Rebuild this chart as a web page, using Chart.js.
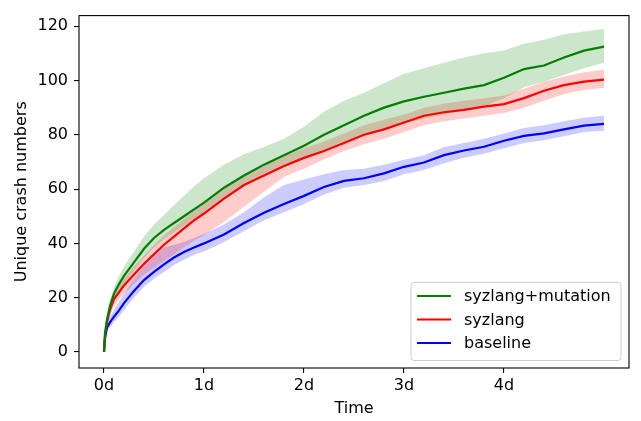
<!DOCTYPE html>
<html>
<head>
<meta charset="utf-8">
<script src="https://cdn.jsdelivr.net/npm/chart.js@4"></script>
<style>
  body { margin: 0; background: #fff; }
  #wrap { width: 641px; height: 421px; position: relative; }
</style>
</head>
<body>
<div id="wrap"><canvas id="crashChart"></canvas></div>
<script>
// time in days
const times = [0, 0.01, 0.03, 0.06, 0.1, 0.15, 0.2, 0.3, 0.4, 0.5, 0.6, 0.7, 0.8, 0.9, 1.0,
    1.2, 1.4, 1.6, 1.8, 2.0, 2.2, 2.4, 2.6, 2.8, 3.0, 3.2, 3.4, 3.6, 3.8, 4.0, 4.2, 4.4, 4.6, 4.8, 5.0];

// syzlang+mutation
const mutationMean = [0, 7, 12, 17, 21.5, 25, 28, 33, 38, 42, 45, 47.5, 50, 52.5, 55,
    60.5, 65, 69, 72.5, 76, 80, 83.5, 87, 90, 92.3, 94, 95.5, 97, 98.3, 101, 104.2, 105.5, 108.5, 111, 112.5];
const mutationUpper = [0, 8, 13.5, 19, 24, 28, 31.5, 37, 42.5, 47, 50.5, 54, 57.5, 61, 64,
    69, 72.8, 75.5, 78.5, 83, 88.5, 92.5, 95.5, 99, 102.5, 104.5, 106.5, 108.5, 110, 111, 113.5, 115, 117, 118, 119];
const mutationLower = [0, 6, 10.5, 15, 19, 22.5, 25, 30, 34.5, 38.5, 41.5, 44, 46.5, 49, 51.5,
    56.5, 61, 65, 68, 71, 74, 77, 79.5, 82, 84, 86, 87.5, 89, 90.5, 93.5, 97.5, 99.5, 102, 104.5, 106.5];

// syzlang
const syzlangMean = [0, 6, 11, 15.5, 19.5, 22, 24.5, 28.5, 32.5, 36, 39.5, 42.5, 45.5, 48.5, 51,
    56.5, 61.5, 65, 68.5, 71.5, 74, 77, 80, 82, 84.5, 87, 88.3, 89.2, 90.4, 91.3, 93.5, 96.2, 98.3, 99.6, 100.3];
const syzlangUpper = [0, 7, 12.5, 17.5, 21.5, 24.5, 27, 31.5, 35.5, 39.5, 43, 46, 49, 52, 55,
    60, 65, 68.5, 72, 75, 77.5, 80.5, 83.5, 85.5, 87.5, 90, 91.5, 92.5, 93.5, 94.5, 97, 99.5, 101.5, 103, 104];
const syzlangLower = [0, 5, 9.5, 13.5, 17, 19.5, 21.5, 25, 28.5, 31, 33.5, 36, 38.5, 41, 43,
    48, 53.5, 59, 64.5, 67.5, 71, 74, 76.5, 78.5, 81, 83.5, 85, 86, 87, 88, 90, 92.5, 95, 96.5, 97.3];

// baseline
const baselineMean = [0, 5, 9, 10.9, 13, 15.3, 18, 22.5, 26.5, 29.5, 32.3, 34.8, 36.8, 38.5, 40,
    43.3, 47.5, 51.3, 54.5, 57.5, 60.8, 63, 64, 65.8, 68.2, 69.8, 72.5, 74.2, 75.6, 77.8, 79.6, 80.5, 82, 83.4, 84];
const baselineUpper = [0, 6, 10.5, 13, 15.5, 18.5, 21.5, 27, 32, 36.5, 38.5, 39.5, 40.5, 42, 43.5,
    47, 51.5, 57, 61.5, 63.5, 65.5, 67, 67.5, 69, 70.8, 72.5, 75.5, 77, 78.5, 80.5, 82.5, 83.5, 85, 86.3, 87];
const baselineLower = [0, 4, 7.5, 9, 11, 13, 15.5, 20, 24, 27, 29.5, 32, 34, 35.8, 37,
    40.5, 44.5, 48.5, 51.5, 54.5, 58, 60.5, 61.5, 63, 65.5, 67, 69.5, 71.5, 73, 75, 77, 78, 79.5, 81, 81.5];

const seriesNames = ['syzlang+mutation', 'syzlang', 'baseline'];
const xTicks = [0, 1, 2, 3, 4];
const yTicks = [0, 20, 40, 60, 80, 100, 120];

const FONT = 'DejaVu Sans';

function points(values) {
    return times.map((t, i) => ({ x: t, y: values[i] }));
}

function band(upper, lower, fillColor) {
    return [
        { data: points(upper), borderWidth: 0, pointRadius: 0, fill: '+1', backgroundColor: fillColor, order: 10, isBand: true },
        { data: points(lower), borderWidth: 0, pointRadius: 0, fill: false, order: 10, isBand: true }
    ];
}

function line(label, values, color) {
    return { label: label, data: points(values), borderColor: color, backgroundColor: color,
        borderWidth: 2.2, pointRadius: 0, fill: false, order: 0 };
}

// frame + matplotlib-style legend in lower right
const framePlugin = {
    id: 'frame',
    afterDraw(chart) {
        const ctx = chart.ctx;
        const ca = chart.chartArea;
        ctx.save();
        ctx.strokeStyle = '#000';
        ctx.lineWidth = 1.1;
        ctx.strokeRect(ca.left, ca.top, ca.right - ca.left, ca.bottom - ca.top);

        const w = 210, h = 78;
        const bx = ca.right - 8 - w, by = ca.bottom - 7.5 - h;
        ctx.beginPath();
        ctx.roundRect(bx, by, w, h, 3);
        ctx.fillStyle = 'rgba(255,255,255,0.8)';
        ctx.fill();
        ctx.strokeStyle = '#cccccc';
        ctx.lineWidth = 1;
        ctx.stroke();

        const lines = chart.data.datasets.filter(d => !d.isBand);
        ctx.font = '16px "' + FONT + '"';
        ctx.textBaseline = 'middle';
        lines.forEach((d, i) => {
            const y = by + 13.5 + i * 23.5;
            ctx.beginPath();
            ctx.moveTo(bx + 6, y);
            ctx.lineTo(bx + 40, y);
            ctx.strokeStyle = d.borderColor;
            ctx.lineWidth = 2.2;
            ctx.stroke();
            ctx.fillStyle = '#000';
            ctx.fillText(d.label, bx + 53, y + 1);
        });
        ctx.restore();
    }
};

const ctx = document.getElementById('crashChart').getContext('2d');
new Chart(ctx, {
    type: 'line',
    data: {
        datasets: [
            ...band(mutationUpper, mutationLower, 'rgba(0, 128, 0, 0.2)'),
            ...band(syzlangUpper, syzlangLower, 'rgba(255, 0, 0, 0.2)'),
            ...band(baselineUpper, baselineLower, 'rgba(0, 0, 255, 0.2)'),
            line(seriesNames[0], mutationMean, '#008000'),
            line(seriesNames[1], syzlangMean, '#ff0000'),
            line(seriesNames[2], baselineMean, '#0000ff')
        ]
    },
    options: {
        responsive: true,
        maintainAspectRatio: false,
        animation: false,
        layout: { padding: { top: 5, right: 12, left: 0, bottom: 0 } },
        plugins: {
            legend: { display: false },
            tooltip: { enabled: false }
        },
        scales: {
            x: {
                type: 'linear',
                min: -0.25,
                max: 5.25,
                afterBuildTicks: scale => { scale.ticks = xTicks.map(v => ({ value: v })); },
                afterFit: scale => { scale.height = 53; },
                ticks: {
                    callback: v => v + 'd',
                    color: '#000',
                    padding: 3,
                    maxRotation: 0,
                    font: { family: FONT, size: 16 }
                },
                grid: { drawOnChartArea: false, drawTicks: true, tickLength: 5, color: '#000', lineWidth: 1.1 },
                border: { display: false },
                title: {
                    display: true,
                    text: 'Time',
                    color: '#000',
                    font: { family: FONT, size: 16, lineHeight: 1.2 },
                    padding: { top: 0, bottom: 2.4 }
                }
            },
            y: {
                min: -5.9,
                max: 123.9,
                afterBuildTicks: scale => { scale.ticks = yTicks.map(v => ({ value: v })); },
                afterFit: scale => { scale.width = 79; },
                ticks: {
                    color: '#000',
                    padding: 6,
                    font: { family: FONT, size: 16 }
                },
                grid: { drawOnChartArea: false, drawTicks: true, tickLength: 5, color: '#000', lineWidth: 1.1 },
                border: { display: false },
                title: {
                    display: true,
                    text: 'Unique crash numbers',
                    color: '#000',
                    font: { family: FONT, size: 16, lineHeight: 1.2 },
                    padding: { top: 12.4, bottom: 0 }
                }
            }
        }
    },
    plugins: [framePlugin]
});
</script>
</body>
</html>
